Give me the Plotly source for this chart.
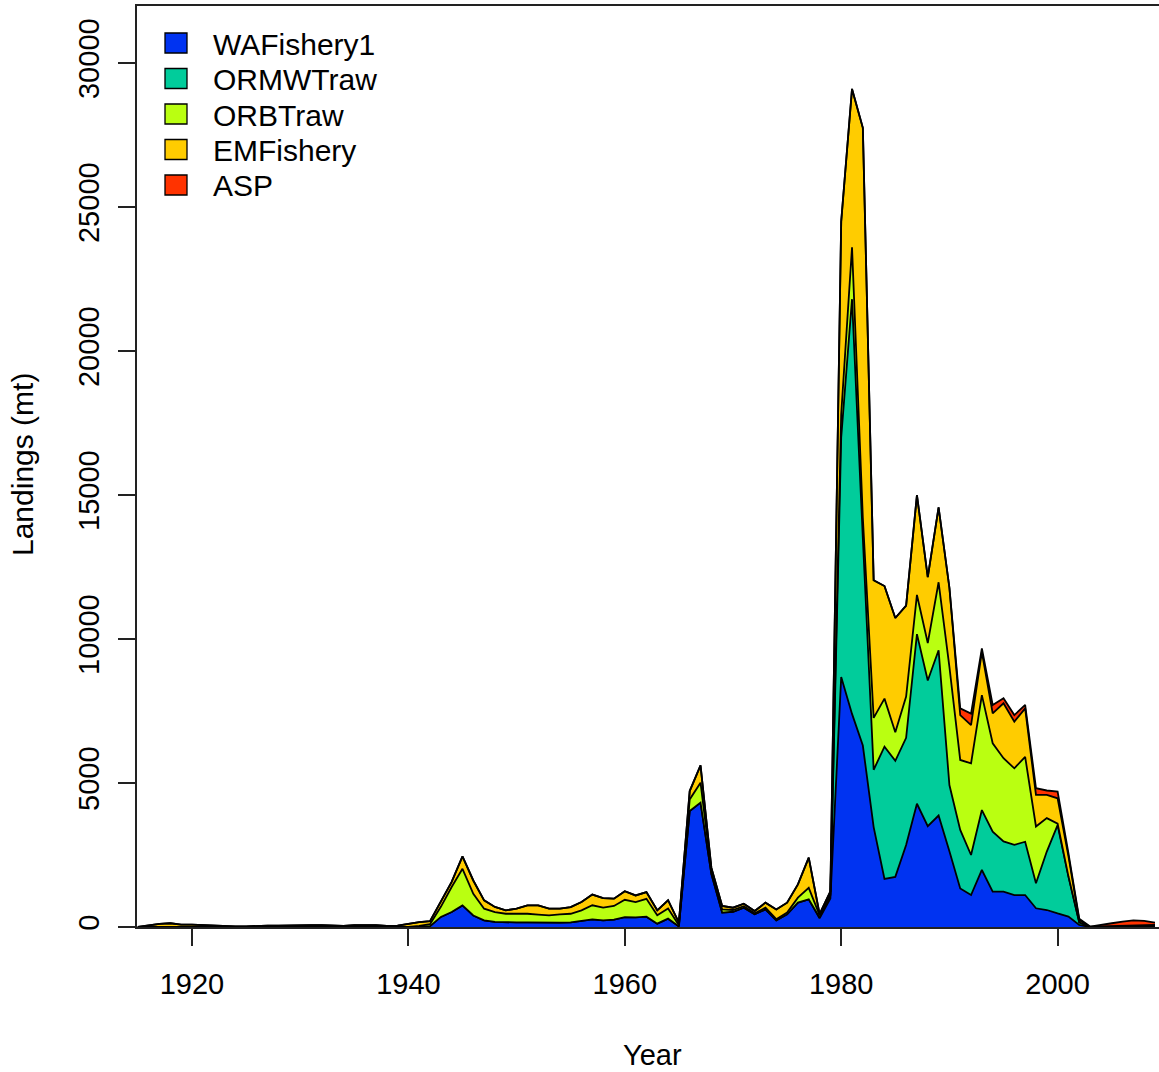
import plotly.graph_objects as go

years = list(range(1915, 2010))

# WAFishery1 (blue), 1915-2009
wa_fishery1 = [
    0, 0, 0, 0, 0, 0, 0, 0, 0, 0,            # 1915-1924
    0, 0, 0, 0, 0, 0, 0, 0, 0, 0,            # 1925-1934
    0, 0, 0, 0, 0, 0, 0, 30, 350, 520,       # 1935-1944
    750, 400, 230, 175, 160, 160, 160, 150, 140, 150,   # 1945-1954
    160, 200, 265, 230, 255, 345, 335, 360, 115, 290,   # 1955-1964
    20, 4030, 4320, 1850, 500, 530, 670, 440, 610, 230, # 1965-1974
    440, 850, 960, 300, 990, 8680, 7400, 6300, 3470, 1670,  # 1975-1984
    1740, 2850, 4280, 3500, 3870, 2630, 1340, 1110, 1980, 1230,  # 1985-1994
    1230, 1110, 1110, 650, 590, 470, 360, 70, 0, 0,     # 1995-2004
    0, 0, 0, 0, 30,                                     # 2005-2009
]

# ORMWTraw (teal)
ormw_traw = [
    0, 0, 0, 0, 0, 0, 0, 0, 0, 0,
    0, 0, 0, 0, 0, 0, 0, 0, 0, 0,
    0, 0, 0, 0, 0, 0, 0, 0, 0, 0,
    0, 0, 0, 0, 0, 0, 0, 0, 0, 0,
    0, 0, 0, 0, 0, 0, 0, 0, 0, 0,
    0, 0, 0, 0, 0, 0, 0, 0, 0, 0,
    0, 0, 0, 30, 100, 8320, 14400, 7200, 1990, 4590,
    4030, 3720, 5890, 5060, 5740, 2300, 2030, 1390, 2080, 2080,
    1740, 1740, 1850, 870, 2030, 3070, 1400, 90, 5, 0,
    0, 0, 0, 0, 0,
]

# ORBTraw (yellow-green)
orb_traw = [
    0, 0, 0, 0, 0, 0, 0, 0, 0, 0,
    0, 0, 0, 0, 0, 0, 0, 0, 0, 0,
    0, 0, 0, 0, 0, 0, 40, 70, 350, 870,
    1270, 750, 405, 345, 300, 300, 300, 280, 265, 290,
    300, 380, 490, 440, 475, 600, 530, 620, 290, 350,
    40, 400, 690, 100, 115, 60, 50, 40, 60, 40,
    60, 170, 400, 80, 50, 800, 1800, 700, 1800, 1670,
    990, 1430, 1360, 1300, 2360, 4100, 2430, 3180, 3990, 3070,
    2890, 2660, 2950, 1970, 1160, 50, 0, 0, 0, 0,
    0, 0, 0, 0, 0,
]

# EMFishery (yellow)
em_fishery = [
    0, 60, 110, 130, 80, 80, 60, 50, 40, 20,
    20, 40, 50, 50, 60, 60, 60, 60, 40, 40,
    60, 70, 60, 40, 50, 110, 130, 100, 175, 175,
    430, 465, 290, 175, 120, 175, 290, 320, 230, 200,
    230, 290, 370, 335, 255, 300, 230, 230, 175, 290,
    90, 290, 600, 110, 115, 80, 90, 75, 175, 340,
    345, 460, 1050, 40, 100, 6700, 5500, 13550, 4780, 3910,
    3970, 3160, 3470, 2290, 2600, 2750, 1560, 1330, 1500, 1040,
    1910, 1620, 1680, 1100, 810, 880, 700, 80, 5, 20,
    30, 40, 50, 50, 40,
]

# ASP (red)
asp = [
    0, 0, 0, 0, 0, 0, 0, 0, 0, 0,
    0, 0, 0, 0, 0, 0, 0, 0, 0, 0,
    0, 0, 0, 0, 0, 0, 0, 0, 0, 0,
    0, 0, 0, 0, 0, 0, 0, 0, 0, 0,
    0, 0, 0, 0, 0, 0, 0, 0, 0, 0,
    0, 0, 0, 0, 0, 0, 0, 0, 0, 0,
    0, 0, 0, 0, 0, 0, 0, 0, 0, 0,
    0, 0, 0, 0, 0, 0, 230, 400, 120, 290,
    170, 230, 120, 230, 150, 230, 100, 50, 5, 40,
    100, 150, 180, 160, 80,
]

series_names = ["WAFishery1", "ORMWTraw", "ORBTraw", "EMFishery", "ASP"]
series_values = [wa_fishery1, ormw_traw, orb_traw, em_fishery, asp]
series_colors = ["#0033F1", "#01CC9B", "#BAFF11", "#FFCC00", "#FF3300"]

x_ticks = [1920, 1940, 1960, 1980, 2000]
x_tick_labels = ["1920", "1940", "1960", "1980", "2000"]
y_ticks = [0, 5000, 10000, 15000, 20000, 25000, 30000]
y_tick_labels = ["0", "5000", "10000", "15000", "20000", "25000", "30000"]

W, H = 1159, 1072
L, T, R, B = 137, 6, 0, 145
PW, PH = W - L - R, H - T - B


def px(x):
    return (x - L) / PW


def py(y):
    return (H - B - y) / PH


FONT = "Liberation Sans, Arial, sans-serif"

fig = go.Figure()
for name, vals, col in zip(series_names, series_values, series_colors):
    fig.add_trace(go.Scatter(
        x=years, y=vals, name=name, mode="lines", stackgroup="one",
        line=dict(color="black", width=1.8), fillcolor=col,
        showlegend=False, hoverinfo="skip",
    ))

shapes = []
annotations = []
for i, (name, col) in enumerate(zip(series_names, series_colors)):
    yc = 43 + i * 35.5
    shapes.append(dict(type="rect", xref="paper", yref="paper",
                       x0=px(165), x1=px(187), y0=py(yc + 10), y1=py(yc - 10),
                       fillcolor=col, line=dict(color="black", width=1.3)))
    annotations.append(dict(text=name, xref="paper", yref="paper",
                            x=px(211), y=py(yc + 1), xanchor="left", yanchor="middle",
                            showarrow=False, font=dict(size=30, color="black", family=FONT)))

annotations.append(dict(text="Year", xref="paper", yref="paper",
                        x=px(652), y=py(1055), xanchor="center", yanchor="middle",
                        showarrow=False, font=dict(size=29, color="black", family=FONT)))
annotations.append(dict(text="Landings (mt)", xref="paper", yref="paper",
                        x=px(22), y=py(465), xanchor="center", yanchor="middle",
                        textangle=-90, showarrow=False,
                        font=dict(size=30, color="black", family=FONT)))

fig.update_layout(
    width=W, height=H,
    margin=dict(l=L, r=R, t=T, b=B, pad=0),
    paper_bgcolor="white", plot_bgcolor="white",
    font=dict(family=FONT, size=28, color="black"),
    shapes=shapes, annotations=annotations,
    xaxis=dict(
        range=[1914.92, 2009.37], tickmode="array", tickvals=x_ticks,
        ticktext=x_tick_labels,
        ticks="outside", ticklen=17, tickwidth=1.5, tickcolor="#222",
        showline=True, linecolor="#222", linewidth=1.5, mirror=True,
        showgrid=False, zeroline=False, ticklabelstandoff=13,
        tickfont=dict(size=29, family=FONT, color="black"),
    ),
    yaxis=dict(
        range=[0, 31980], tickmode="array", tickvals=y_ticks,
        ticktext=y_tick_labels,
        tickangle=-90, ticks="outside", ticklen=17, tickwidth=1.5, tickcolor="#222",
        showline=True, linecolor="#222", linewidth=1.5,
        showgrid=False, zeroline=False, ticklabelstandoff=8,
        tickfont=dict(size=29, family=FONT, color="black"),
    ),
)

fig.write_html("out.html")
